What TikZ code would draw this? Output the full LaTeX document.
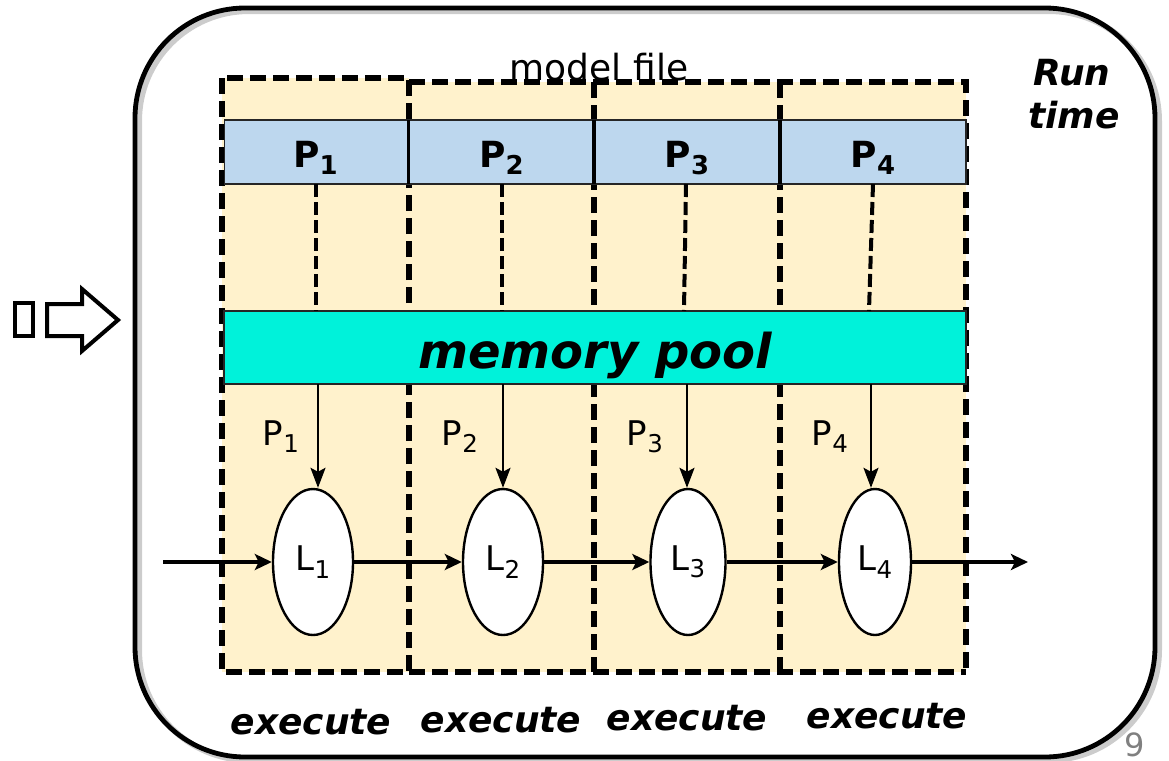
\documentclass[tikz,border=0pt]{standalone}
\usepackage{fontspec}
\setmainfont{DejaVu Sans}
\usepackage{graphicx}
\usetikzlibrary{arrows.meta,shapes.geometric,calc}
\definecolor{sand}{HTML}{FFF2CC}
\definecolor{bandblue}{HTML}{BDD7EE}
\definecolor{poolcyan}{HTML}{00F2DA}
\newcommand\lowsub[1]{\raisebox{-0.22em}{\scalebox{0.72}{#1}}}
\tikzset{
  outerbox/.style={draw, line width=2.4pt, rounded corners=55pt},
  stagefill/.style={fill=sand},
  stageedge/.style={draw, line width=2.9pt, dash pattern=on 8pt off 3.5pt},
  cell/.style={draw=black!85, line width=0.8pt, fill=bandblue, minimum height=32pt, inner sep=0pt, outer sep=0pt},
  divider/.style={line width=1.6pt},
  poolbox/.style={draw=black!85, line width=0.8pt, fill=poolcyan, minimum width=371pt, minimum height=36.5pt, inner sep=0pt, outer sep=0pt},
  layer/.style={ellipse, draw, line width=1.2pt, fill=white, inner sep=0pt, minimum height=73pt, font=\fontsize{17pt}{19pt}\selectfont},
  link/.style={line width=2pt, dash pattern=on 6.5pt off 2.5pt},
  feed/.style={-{Stealth[length=10pt,width=7.5pt,inset=2pt]}, line width=1.1pt},
  flow/.style={-{Stealth[length=8.5pt,width=8pt,inset=2pt]}, line width=1.6pt},
  celltext/.style={anchor=base, font=\fontsize{18pt}{20pt}\selectfont\bfseries},
  paramtext/.style={anchor=base, font=\fontsize{17pt}{19pt}\selectfont},
  boldit/.style={anchor=base, font=\fontsize{18pt}{22pt}\selectfont\bfseries\itshape},
  blockarrow/.style={draw, line width=2pt, line join=miter}
}
\begin{document}
\begin{tikzpicture}[x=0.5pt,y=-0.5pt]
\useasboundingbox (0,0) rectangle (1169,761);

% outer run-time frame with a soft shadow
\draw[outerbox, draw=black!20, line width=3pt] (139,11) rectangle (1159,760);
\draw[outerbox] (135,8) rectangle (1155,757);

% entry arrow on the left
\draw[blockarrow] (15,303) rectangle (33,336);
\draw[blockarrow] (47,304) -- (82,304) -- (82,289) -- (118,320) -- (82,351) -- (82,336) -- (47,336) -- cycle;

% four execution stages
\fill[stagefill] (222,78) rectangle (409,672);
\fill[stagefill] (409,82) rectangle (966,672);
\draw[stageedge] (222,78) rectangle (409,672);
\draw[stageedge] (409,82) -- (966,82) -- (966,672);
\draw[stageedge] (409,672) -- (966,672);
\draw[stageedge] (594,82) -- (594,672);
\draw[stageedge] (780,82) -- (780,672);

\node[anchor=base, font=\fontsize{18pt}{20pt}\selectfont] (model) at (599,80) {model file};

% parameter partitions of the model file
\node[cell, minimum width=92pt] (c1) at (316.5,152) {};
\node[cell, minimum width=92.5pt] (c2) at (501.5,152) {};
\node[cell, minimum width=93pt] (c3) at (687,152) {};
\node[cell, minimum width=93pt] (c4) at (873,152) {};
\draw[divider] (c1.north east) -- (c1.south east);
\draw[divider] (c2.north east) -- (c2.south east);
\draw[divider] (c3.north east) -- (c3.south east);
\node[celltext] (t1) at (315.5,167) {P\lowsub{1}};
\node[celltext] (t2) at (501.5,167) {P\lowsub{2}};
\node[celltext] (t3) at (687,167) {P\lowsub{3}};
\node[celltext] (t4) at (873,167) {P\lowsub{4}};

% memory pool
\node[poolbox] (pool) at (595,347.5) {};
\node[boldit, font=\fontsize{24pt}{28pt}\selectfont\bfseries\itshape] (pooltext) at (595,368) {memory pool};

% loading into the pool
\draw[link] ([xshift=-0.5pt]c1.south) -- ([xshift=-0.5pt]c1.south |- pool.north);
\draw[link] (c2.south) -- (c2.south |- pool.north);
\draw[link] ([xshift=-0.5pt]c3.south) -- ([xshift=-1.5pt]c3.south |- pool.north);
\draw[link] (c4.south) -- ([xshift=-2pt]c4.south |- pool.north);

% layers
\node[layer, minimum width=40pt] (L1) at (313,562) {L\lowsub{1}};
\node[layer, minimum width=40pt] (L2) at (503,562) {L\lowsub{2}};
\node[layer, minimum width=37.5pt] (L3) at (688,562) {L\lowsub{3}};
\node[layer, minimum width=36pt] (L4) at (875,562) {L\lowsub{4}};

% parameters handed from the pool to each layer
\draw[feed] ([xshift=2.5pt]L1.north |- pool.south) -- ([xshift=2.5pt]L1.north);
\draw[feed] (L2.north |- pool.south) -- (L2.north);
\draw[feed] ([xshift=-0.5pt]L3.north |- pool.south) -- ([xshift=-0.5pt]L3.north);
\draw[feed] ([xshift=-2pt]L4.north |- pool.south) -- ([xshift=-2pt]L4.north);
\node[paramtext] (p1) at (281,445) {P\lowsub{1}};
\node[paramtext] (p2) at (460,445) {P\lowsub{2}};
\node[paramtext] (p3) at (645,445) {P\lowsub{3}};
\node[paramtext] (p4) at (830,445) {P\lowsub{4}};

% data flow through the layers
\coordinate (in) at (163,562);
\coordinate (out) at (1028,562);
\draw[flow] (in) -- (L1.west);
\draw[flow] (L1.east) -- (L2.west);
\draw[flow] (L2.east) -- (L3.west);
\draw[flow] (L3.east) -- (L4.west);
\draw[flow] (L4.east) -- (out);

% captions
\node[boldit] (e1) at (311,734) {execute};
\node[boldit] (e2) at (501,732) {execute};
\node[boldit] (e3) at (687,730) {execute};
\node[boldit] (e4) at (887,728) {execute};
\node[boldit] (run) at (1072,85) {Run};
\node[boldit] (time) at (1074,128) {time};
\node[anchor=base, text=black!50, font=\fontsize{16pt}{18pt}\selectfont] (page) at (1135,756) {9};
\end{tikzpicture}
\end{document}
